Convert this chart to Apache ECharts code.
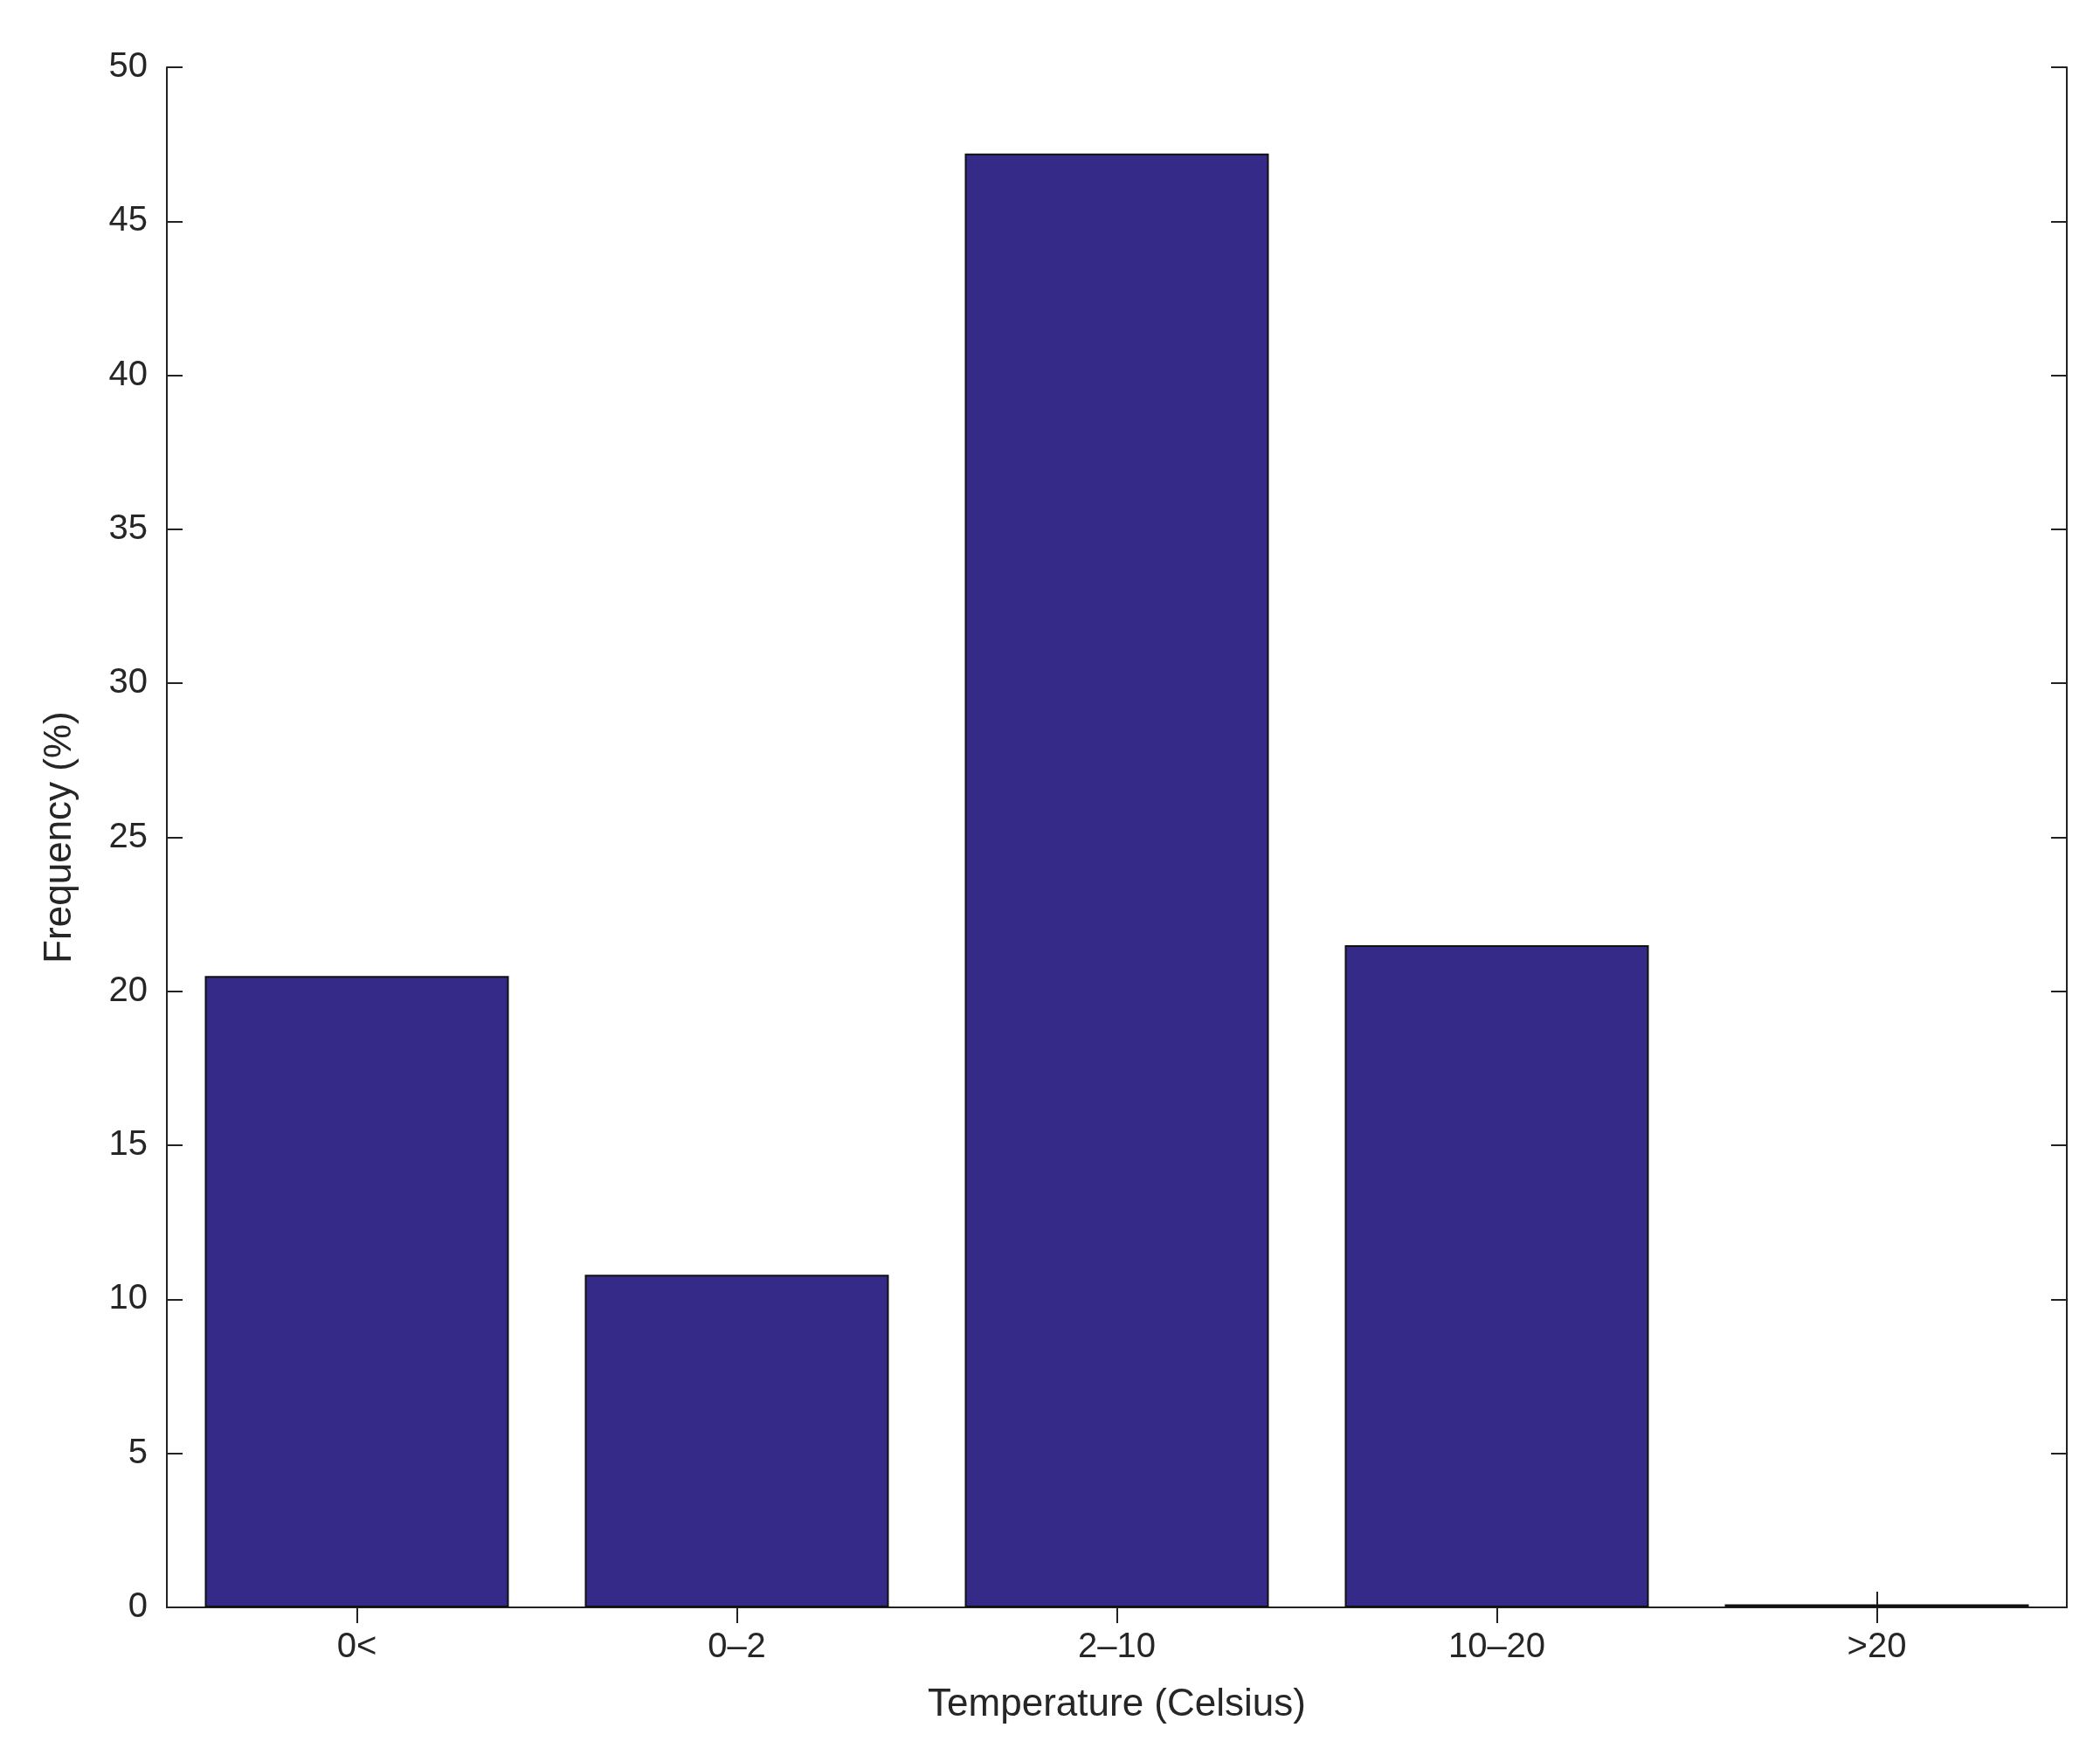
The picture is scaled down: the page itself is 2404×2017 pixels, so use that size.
<!DOCTYPE html>
<html>
<head>
<meta charset="utf-8">
<script src="https://cdn.jsdelivr.net/npm/echarts@6/dist/echarts.min.js"></script>
<style>html,body{margin:0;background:#fff}#chart{width:2404px;height:2017px}</style>
</head>
<body>
<div id="chart"></div>
<script>
var categories = ['0<', '0\u20132', '2\u201310', '10\u201320', '>20'];
var frequency = [20.5, 10.8, 47.2, 21.5, 0.1];

var chart = echarts.init(document.getElementById('chart'));
var font = 'Helvetica, Arial, "Liberation Sans", sans-serif';
var line = {show: true, lineStyle: {color: '#222', width: 2}};
var tick = {show: true, inside: true, length: 18, alignWithLabel: true, lineStyle: {color: '#222', width: 2}};

chart.setOption({
  animation: false,
  grid: {left: 191, right: 38, top: 77, bottom: 177},
  xAxis: [{
    type: 'category', data: categories, position: 'bottom',
    axisLine: line, axisTick: tick,
    axisLabel: {color: '#262626', fontSize: 40, fontFamily: font, margin: 26},
    name: 'Temperature (Celsius)', nameLocation: 'middle', nameGap: 90,
    nameTextStyle: {color: '#262626', fontSize: 44, fontFamily: font}
  }, {
    type: 'category', data: categories, position: 'top',
    axisLine: line, axisTick: tick, axisLabel: {show: false}
  }],
  yAxis: [{
    type: 'value', min: 0, max: 50, interval: 5, position: 'left',
    axisLine: line, axisTick: tick, splitLine: {show: false},
    axisLabel: {color: '#262626', fontSize: 40, fontFamily: font, margin: 22},
    name: 'Frequency (%)', nameLocation: 'middle', nameGap: 100,
    nameTextStyle: {color: '#262626', fontSize: 44, fontFamily: font}
  }, {
    type: 'value', min: 0, max: 50, interval: 5, position: 'right',
    axisLine: line, axisTick: tick, splitLine: {show: false}, axisLabel: {show: false}
  }],
  series: [{
    type: 'bar', data: frequency, barWidth: '80%',
    itemStyle: {color: '#352A87', borderColor: '#111', borderWidth: 2}
  }]
});
</script>
</body>
</html>
